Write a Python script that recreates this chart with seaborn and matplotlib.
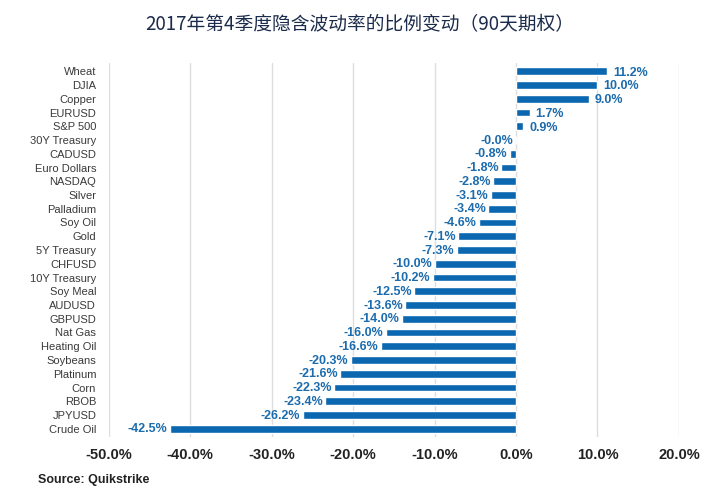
import matplotlib
matplotlib.use("Agg")
import matplotlib.pyplot as plt
import seaborn as sns
import pandas as pd
import matplotlib.ticker as ticker

categories = [
    "Wheat", "DJIA", "Copper", "EURUSD", "S&P 500", "30Y Treasury", "CADUSD",
    "Euro Dollars", "NASDAQ", "Silver", "Palladium", "Soy Oil", "Gold",
    "5Y Treasury", "CHFUSD", "10Y Treasury", "Soy Meal", "AUDUSD", "GBPUSD",
    "Nat Gas", "Heating Oil", "Soybeans", "Platinum", "Corn", "RBOB", "JPYUSD",
    "Crude Oil",
]
changes = [
    11.2, 10.0, 9.0, 1.7, 0.9, -0.04, -0.8, -1.8, -2.8, -3.1, -3.4, -4.6, -7.1,
    -7.3, -10.0, -10.2, -12.5, -13.6, -14.0, -16.0, -16.6, -20.3, -21.6, -22.3,
    -23.4, -26.2, -42.5,
]
x_ticks = [-50, -40, -30, -20, -10, 0, 10, 20]

df = pd.DataFrame({"asset": categories, "change": changes})

sns.set_theme(style="white")
plt.rcParams["font.family"] = ["Noto Sans CJK SC", "DejaVu Sans"]

bar_color = "#0a67b0"
label_color = "#1c6cad"

fig = plt.figure(figsize=(7.2, 5.0), dpi=100)
ax = fig.add_axes([0.151, 0.126, 0.792, 0.748])

sns.barplot(data=df, x="change", y="asset", orient="h", color=bar_color,
            width=0.55, saturation=1, ax=ax)

# value labels at the end of each bar
for i, v in enumerate(changes):
    txt = f"{v:.1f}%"
    if v >= 0:
        ax.text(v + 0.7, i + 0.1, txt, ha="left", va="center", fontsize=9,
                fontweight="bold", color=label_color, family=["Liberation Sans"])
    else:
        ax.text(v - 0.3, i + 0.05, txt, ha="right", va="center", fontsize=9,
                fontweight="bold", color=label_color, family=["Liberation Sans"])

ax.set_xlim(-50, 20)
ax.set_xticks(x_ticks)
ax.xaxis.set_major_formatter(ticker.FuncFormatter(lambda v, p: f"{v:.1f}%"))
for lab in ax.get_xticklabels():
    lab.set_fontweight("bold")
    lab.set_fontsize(10.5)
    lab.set_color("#222222")
    lab.set_family(["Liberation Sans"])
ax.tick_params(axis="x", length=0, pad=8)
ax.tick_params(axis="y", length=0, pad=9, labelsize=8, labelcolor="#3a3a3a")
for lab in ax.get_yticklabels():
    lab.set_family(["Liberation Sans"])

ax.grid(axis="x", color="#dddddd", linewidth=1)
ax.set_axisbelow(True)
for s in ax.spines.values():
    s.set_visible(False)
ax.set_xlabel("")
ax.set_ylabel("")
ax.set_ylim(len(categories) - 0.4, -0.6)

fig.text(0.5, 0.95, "2017年第4季度隐含波动率的比例变动（90天期权）", ha="center",
         va="center", fontsize=13.5, color="#1b2b4b")
fig.text(0.053, 0.04, "Source: Quikstrike", ha="left", va="center", fontsize=9,
         fontweight="bold", color="#222222", family=["Liberation Sans"])

fig.savefig("out.png", dpi=100)
